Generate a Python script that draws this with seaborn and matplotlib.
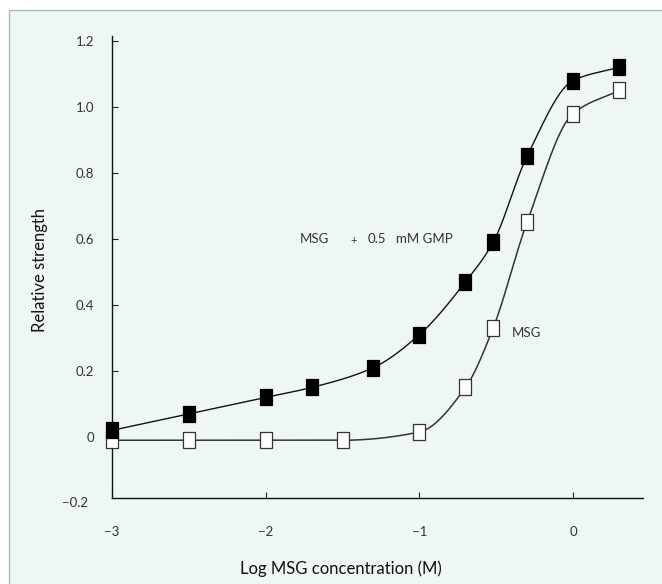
import matplotlib
matplotlib.use('Agg')
import matplotlib.pyplot as plt
import seaborn as sns
import numpy as np
from matplotlib.path import Path
from matplotlib.patches import Rectangle

# data
log_conc_gmp = [-3, -2.5, -2, -1.7, -1.3, -1, -0.7, -0.52, -0.3, 0, 0.3]
strength_gmp = [0.02, 0.07, 0.12, 0.15, 0.21, 0.31, 0.47, 0.59, 0.85, 1.08, 1.12]

log_conc_msg = [-3, -2.5, -2, -1.5, -1, -0.7, -0.52, -0.3, 0, 0.3]
strength_msg = [-0.01, -0.01, -0.01, -0.01, 0.015, 0.15, 0.33, 0.65, 0.98, 1.05]

x_ticks = [-3, -2, -1, 0]
y_ticks = [0, 0.2, 0.4, 0.6, 0.8, 1.0, 1.2]
y_tick_labels = ['0', '0.2', '0.4', '0.6', '0.8', '1.0', '1.2']


def pchip(x, y, xs):
    # monotone cubic through the points, for the smooth curves
    x = np.asarray(x, float)
    y = np.asarray(y, float)
    h = np.diff(x)
    d = np.diff(y) / h
    m = np.zeros(len(x))
    m[0] = d[0]
    m[-1] = d[-1]
    for k in range(1, len(x) - 1):
        if d[k - 1] * d[k] <= 0:
            m[k] = 0
        else:
            w1 = 2 * h[k] + h[k - 1]
            w2 = h[k] + 2 * h[k - 1]
            m[k] = (w1 + w2) / (w1 / d[k - 1] + w2 / d[k])
    idx = np.clip(np.searchsorted(x, xs) - 1, 0, len(x) - 2)
    t = (xs - x[idx]) / h[idx]
    h00 = 2 * t**3 - 3 * t**2 + 1
    h10 = t**3 - 2 * t**2 + t
    h01 = -2 * t**3 + 3 * t**2
    h11 = t**3 - t**2
    return (h00 * y[idx] + h10 * h[idx] * m[idx]
            + h01 * y[idx + 1] + h11 * h[idx] * m[idx + 1])


sns.set_style('ticks')
plt.rcParams['font.family'] = ['Lato', 'DejaVu Sans']

bg = '#eff7f6'
fig = plt.figure(figsize=(6.62, 5.84), dpi=100)
fig.patch.set_facecolor('white')
fig.patches.append(Rectangle((9 / 662, -0.01), 1.0, 1 - 10 / 584 + 0.01,
                             transform=fig.transFigure, facecolor=bg,
                             edgecolor='#b5b5b5', linewidth=1.0, zorder=-1))

ax = fig.add_axes([112 / 662, 1 - 498 / 584, (643 - 112) / 662, (498 - 36) / 584])
ax.set_facecolor('none')

# smooth curves
xs = np.linspace(-3, 0.3, 400)
sns.lineplot(x=xs, y=pchip(log_conc_gmp, strength_gmp, xs), ax=ax,
             color='#111111', linewidth=1.0)
sns.lineplot(x=xs, y=pchip(log_conc_msg, strength_msg, xs), ax=ax,
             color='#333333', linewidth=1.1)

# tall rectangle marker
rect = Path([(-0.36, -0.5), (0.36, -0.5), (0.36, 0.5), (-0.36, 0.5), (-0.36, -0.5)],
            [Path.MOVETO, Path.LINETO, Path.LINETO, Path.LINETO, Path.CLOSEPOLY])

sns.scatterplot(x=log_conc_msg, y=strength_msg, ax=ax, marker=rect, s=125,
                facecolor='white', edgecolor='#333333', linewidth=0.9,
                clip_on=False, zorder=3)
sns.scatterplot(x=log_conc_gmp, y=strength_gmp, ax=ax, marker=rect, s=125,
                facecolor='black', edgecolor='black', linewidth=0.9,
                clip_on=False, zorder=4)

ax.set_xlim(-3, 0.455)
ax.set_ylim(-0.185, 1.215)
ax.set_xticks(x_ticks)
ax.set_xticklabels(['\u22123', '\u22122', '\u22121', '0'])
ax.set_yticks(y_ticks)
ax.set_yticklabels(y_tick_labels)
ax.tick_params(axis='x', direction='in', length=4.5, width=0.8, pad=20,
               labelsize=9.5, labelcolor='#333333', color='#222222')
ax.tick_params(axis='y', direction='in', length=4.5, width=0.8, pad=13,
               labelsize=9.5, labelcolor='#333333', color='#222222')
for side in ['top', 'right']:
    ax.spines[side].set_visible(False)
for side in ['left', 'bottom']:
    ax.spines[side].set_color('#111111')
    ax.spines[side].set_linewidth(1.0)

# -0.2 sits just below the axis
ax.text(-0.045, -0.2, '\u22120.2', transform=ax.get_yaxis_transform(),
        ha='right', va='center', fontsize=9.5, color='#333333')

ax.set_xlabel('')
ax.set_ylabel('')
fig.text(341 / 662, 1 - 569 / 584, 'Log MSG concentration (M)', ha='center',
         va='center', fontsize=12, color='#111111')
fig.text(40 / 662, 1 - 270 / 584, 'Relative strength', ha='center',
         va='center', rotation=90, fontsize=12, color='#111111')

# annotations
ax.text(-1.777, 0.60, 'MSG', ha='left', va='center', fontsize=9.5, color='#333333')
ax.text(-1.425, 0.595, '+', ha='center', va='center', fontsize=8, color='#333333')
ax.text(-1.334, 0.60, '0.5', ha='left', va='center', fontsize=9.5, color='#333333')
ax.text(-1.152, 0.60, 'mM GMP', ha='left', va='center', fontsize=9.5, color='#333333')
ax.text(-0.398, 0.315, 'MSG', ha='left', va='center', fontsize=9.5, color='#333333')

fig.savefig('out.png', dpi=100, facecolor='white')
